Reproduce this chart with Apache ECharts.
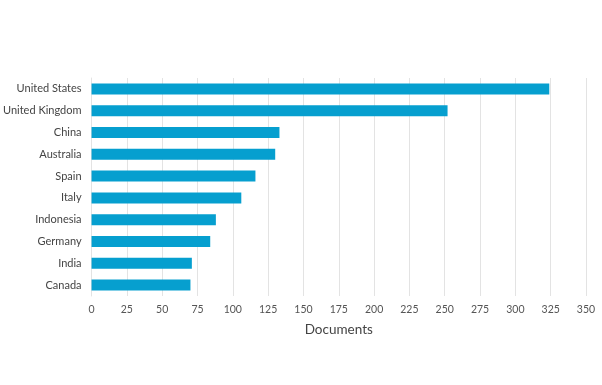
<!DOCTYPE html>
<html><head><meta charset="utf-8">
<script src="https://cdn.jsdelivr.net/npm/echarts@6/dist/echarts.min.js"></script>
<style>html,body{margin:0;padding:0;background:#fff}#c{width:602px;height:385px}</style>
</head><body><div id="c"></div>
<script>
const categories = ["United States","United Kingdom","China","Australia","Spain","Italy","Indonesia","Germany","India","Canada"];
const documents = [324, 252, 133, 130, 116, 106, 88, 84, 71, 70];
const xTicks = [0,25,50,75,100,125,150,175,200,225,250,275,300,325,350];

const chart = echarts.init(document.getElementById('c'), null, {renderer:'canvas'});
chart.setOption({
  animation:false,
  grid:{left:90, right:16, top:78, bottom:89, containLabel:false},
  xAxis:{
    type:'value', min:xTicks[0], max:xTicks[xTicks.length-1], interval:25,
    name:'Documents', nameLocation:'middle', nameGap:27,
    nameTextStyle:{fontFamily:'Lato', fontSize:13.5, color:'#444'},
    axisLine:{show:false}, axisTick:{show:false},
    axisLabel:{fontFamily:'Lato', fontSize:10.5, color:'#555', margin:8},
    splitLine:{show:true, lineStyle:{color:'#e3e3e3', width:1}}
  },
  yAxis:{
    type:'category', data:categories, inverse:true,
    axisLine:{show:true, lineStyle:{color:'#e3e3e3'}}, axisTick:{show:false},
    axisLabel:{fontFamily:'Lato', fontSize:11, color:'#444', margin:10}
  },
  series:[{
    type:'bar', data:documents, barWidth:11,
    itemStyle:{color:'#069fcf'}
  }]
});
</script></body></html>
